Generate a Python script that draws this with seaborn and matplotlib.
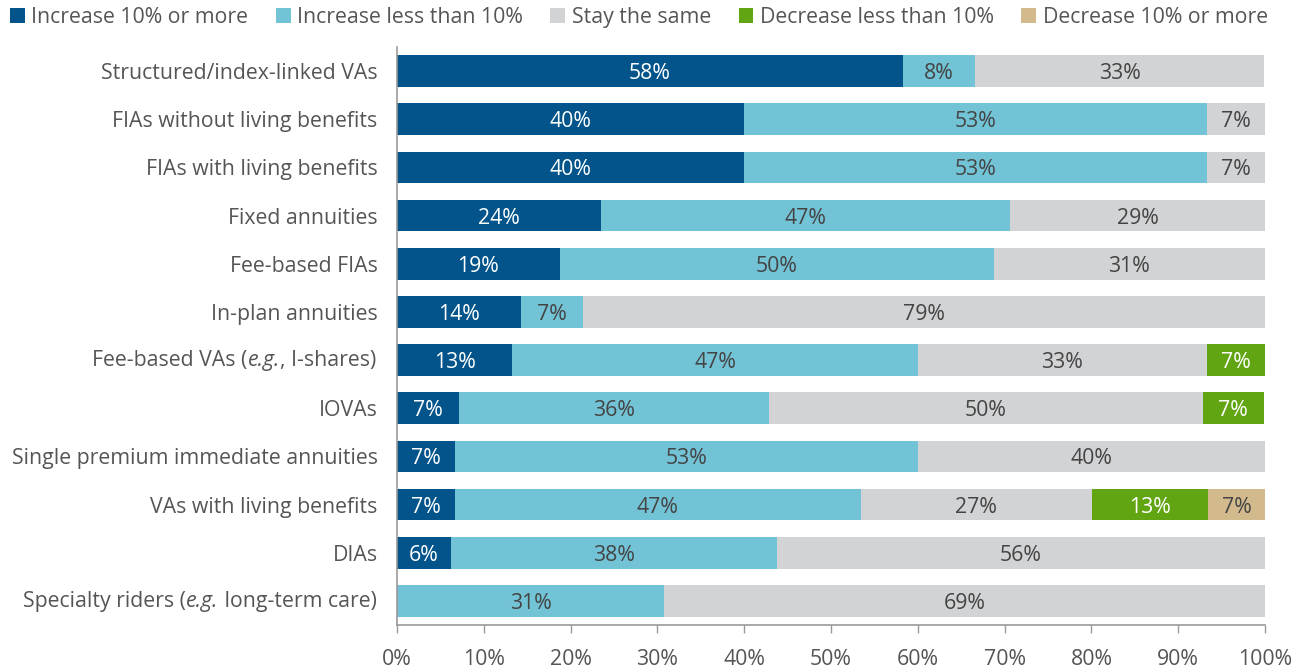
import numpy as np
import pandas as pd
import matplotlib
matplotlib.use("Agg")
import matplotlib.pyplot as plt
from matplotlib.patches import Patch
from matplotlib.offsetbox import TextArea, HPacker, AnnotationBbox
import seaborn as sns

sns.set_theme(style="white")
plt.rcParams["font.family"] = ["Open Sans", "DejaVu Sans"]

# Survey categories (top to bottom); tuples mark an italic middle part
categories = [
    "Structured/index-linked VAs",
    "FIAs without living benefits",
    "FIAs with living benefits",
    "Fixed annuities",
    "Fee-based FIAs",
    "In-plan annuities",
    ("Fee-based VAs (", "e.g.", ", I-shares)"),
    "IOVAs",
    "Single premium immediate annuities",
    "VAs with living benefits",
    "DIAs",
    ("Specialty riders (", "e.g.", " long-term care)"),
]

series_names = [
    "Increase 10% or more",
    "Increase less than 10%",
    "Stay the same",
    "Decrease less than 10%",
    "Decrease 10% or more",
]

# Share of respondents (%) per response
increase_10_plus = [58.3, 40.0, 40.0, 23.5, 18.75, 14.3, 13.3, 7.1, 6.7, 6.7, 6.25, 0.0]
increase_under_10 = [8.3, 53.3, 53.3, 47.1, 50.0, 7.1, 46.7, 35.7, 53.3, 46.7, 37.5, 30.8]
stay_same = [33.3, 6.7, 6.7, 29.4, 31.25, 78.6, 33.3, 50.0, 40.0, 26.7, 56.25, 69.2]
decrease_under_10 = [0.0, 0.0, 0.0, 0.0, 0.0, 0.0, 6.7, 7.1, 0.0, 13.3, 0.0, 0.0]
decrease_10_plus = [0.0, 0.0, 0.0, 0.0, 0.0, 0.0, 0.0, 0.0, 0.0, 6.7, 0.0, 0.0]

colors = ["#02548B", "#72C3D6", "#D2D3D5", "#62A513", "#D2BA8D"]
label_colors = ["white", "#444444", "#444444", "white", "#444444"]
text_gray = "#555555"
text_size = 15.3

values = np.array([increase_10_plus, increase_under_10, stay_same,
                   decrease_under_10, decrease_10_plus])
cum = np.cumsum(values, axis=0)

plain_names = ["".join(c) if isinstance(c, tuple) else c for c in categories]
df = pd.DataFrame({"category": plain_names})
for i, name in enumerate(series_names):
    df[name + "_end"] = cum[i]

fig = plt.figure(figsize=(13.12, 6.68), dpi=100)
ax = fig.add_axes([397 / 1312, 1 - 625 / 668, 868 / 1312, 578 / 668])

# Stack by drawing cumulative totals, widest first
for i in reversed(range(len(series_names))):
    sns.barplot(data=df, x=series_names[i] + "_end", y="category",
                orient="h", color=colors[i], saturation=1, width=0.66,
                linewidth=0, ax=ax)

# Segment labels
for i in range(len(series_names)):
    start = cum[i] - values[i]
    for j, v in enumerate(values[i]):
        if v > 0:
            ax.text(start[j] + v / 2, j, f"{v:.0f}%", ha="center",
                    va="center_baseline", color=label_colors[i],
                    fontsize=text_size)

ax.set_xlim(0, 100)
ax.set_ylim(11.5, -0.5)
ax.set_xticks(np.arange(0, 101, 10))
ax.set_xticklabels([f"{t}%" for t in range(0, 101, 10)])
ax.set_xlabel("")
ax.set_ylabel("")

# Category labels, with mixed-style ones built from text pieces
label_pad = 8
ax.set_yticks(range(len(categories)))
ax.set_yticklabels(["" if isinstance(c, tuple) else c for c in categories])
for j, c in enumerate(categories):
    if isinstance(c, tuple):
        parts = [
            TextArea(c[0], textprops=dict(color=text_gray, fontsize=text_size)),
            TextArea(c[1], textprops=dict(color=text_gray, fontsize=text_size,
                                          style="italic")),
            TextArea(c[2], textprops=dict(color=text_gray, fontsize=text_size)),
        ]
        box = HPacker(children=parts, align="baseline", pad=0, sep=0)
        ab = AnnotationBbox(box, (0, j), xycoords=("axes fraction", "data"),
                            xybox=(-label_pad - 6.8, -0.5), boxcoords="offset points",
                            box_alignment=(1, 0.5), frameon=False, pad=0,
                            annotation_clip=False)
        ax.add_artist(ab)

gray = "#999999"
for side in ["top", "right"]:
    ax.spines[side].set_visible(False)
for side in ["left", "bottom"]:
    ax.spines[side].set_color(gray)
    ax.spines[side].set_linewidth(1.2)
ax.tick_params(axis="x", which="both", bottom=True, length=6, width=1,
               color=gray, labelsize=text_size, labelcolor=text_gray, pad=11.5)
ax.tick_params(axis="y", left=False, labelsize=text_size, labelcolor=text_gray,
               pad=label_pad)

handles = [Patch(facecolor=c, edgecolor="none") for c in colors]
fig.legend(handles, series_names, loc="upper left", bbox_to_anchor=(0.001, 1.002),
           ncol=5, frameon=False, fontsize=text_size, labelcolor=text_gray,
           handlelength=0.7, handleheight=0.7, handletextpad=0.3,
           columnspacing=1.3, borderaxespad=0)

fig.savefig("out.png", dpi=100)
